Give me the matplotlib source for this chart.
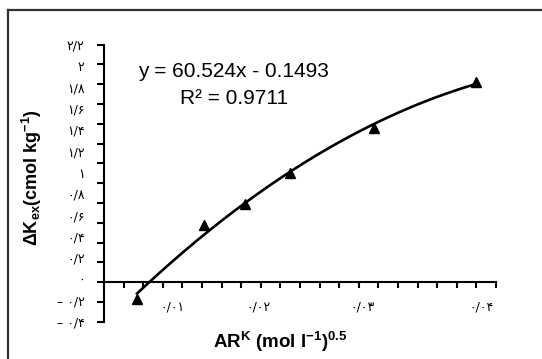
import numpy as np
import matplotlib
matplotlib.use("Agg")
from matplotlib import pyplot as plt
from matplotlib.lines import Line2D

plt.rcParams['font.family'] = ['Liberation Sans', 'DejaVu Sans']
plt.rcParams['mathtext.fontset'] = 'custom'
plt.rcParams['mathtext.rm'] = 'Liberation Sans'
plt.rcParams['mathtext.bf'] = 'Liberation Sans:bold'

# data
ar_k = [0.00337, 0.01016, 0.01442, 0.01903, 0.02755, 0.03795]
dk_ex = [-0.166, 0.577, 0.787, 1.105, 1.554, 2.025]

# tick labels as printed (Persian digits)
y_labels = ["۲/۲", "۲", "۱/۸", "۱/۶", "۱/۴", "۱/۲", "۱",
            "۰/۸", "۰/۶", "۰/۴", "۰/۲", "۰", "– ۰/۲", "– ۰/۴"]
x_labels = ["۰/۰۱", "۰/۰۲", "۰/۰۳", "۰/۰۴"]
# where the printed labels sit on the axes
y_label_pos = np.linspace(2.4, -0.4, len(y_labels))
x_label_pos = [0.0070, 0.0158, 0.0264, 0.0385]

W, H = 542, 359
fig = plt.figure(figsize=(W / 100, H / 100), dpi=100)
ax = fig.add_axes([104 / W, 1 - 321.7 / H, (496 - 104) / W, (321.7 - 44.7) / H])

ax.set_xlim(0, 0.04)
ax.set_ylim(-0.4, 2.4)

ax.plot(ar_k, dk_ex, linestyle='none', marker='^', ms=6.5, color='black')

# trendline through the points
coef = np.polyfit(ar_k, dk_ex, 2)
xs = np.linspace(ar_k[0], ar_k[-1], 200)
ax.plot(xs, np.polyval(coef, xs), color='black', lw=1.9)

for s in ['top', 'right']:
    ax.spines[s].set_visible(False)
ax.spines['bottom'].set_position(('data', 0))
ax.spines['left'].set_linewidth(1.5)
ax.spines['bottom'].set_linewidth(1.5)

# major ticks: unlabeled marks, minor ticks: labels only
ax.yaxis.remove_overlapping_locs = False
ax.xaxis.remove_overlapping_locs = False
ax.set_yticks(np.arange(-0.4, 2.41, 0.2))
ax.set_yticklabels([])
ax.set_yticks(y_label_pos, minor=True)
ax.set_yticklabels(y_labels, minor=True, family=['DejaVu Sans'], fontsize=9)
ax.tick_params(axis='y', which='major', direction='out', length=5, width=1.5)
ax.tick_params(axis='y', which='minor', length=0, pad=14)

ax.set_xticks(np.arange(0, 0.0401, 0.002))
ax.set_xticklabels([])
ax.set_xticks(x_label_pos, minor=True)
ax.set_xticklabels(x_labels, minor=True, family=['DejaVu Sans'], fontsize=9)
ax.tick_params(axis='x', which='major', direction='out', length=4, width=1.5)
ax.tick_params(axis='x', which='minor', length=0, pad=13)

ax.text(0.00348, 2.126, "y = 60.524x - 0.1493", fontsize=15, va='center', ha='left')
ax.text(0.00777, 1.857, "R² = 0.9711", fontsize=15, va='center', ha='left')

fig.text(31.7 / W, 1 - 178 / H, r"ΔK$_\mathbf{ex}$(cmol kg$^\mathbf{-1}$)",
         rotation=90, ha='center', va='center', fontsize=13, fontweight='bold')
fig.text(280 / W, 1 - 342 / H, r"AR$^\mathbf{K}$ (mol l$^\mathbf{-1}$)$^\mathbf{0.5}$",
         ha='center', va='center', fontsize=13.5, fontweight='bold')

# outer frame (left and top edges visible)
fx, fy = 8 / W, 1 - 10 / H
fig.add_artist(Line2D([fx, fx], [0, fy], transform=fig.transFigure, color='#333333', lw=1.6))
fig.add_artist(Line2D([fx, 1], [fy, fy], transform=fig.transFigure, color='#333333', lw=1.6))

fig.savefig("out.png", dpi=100)
